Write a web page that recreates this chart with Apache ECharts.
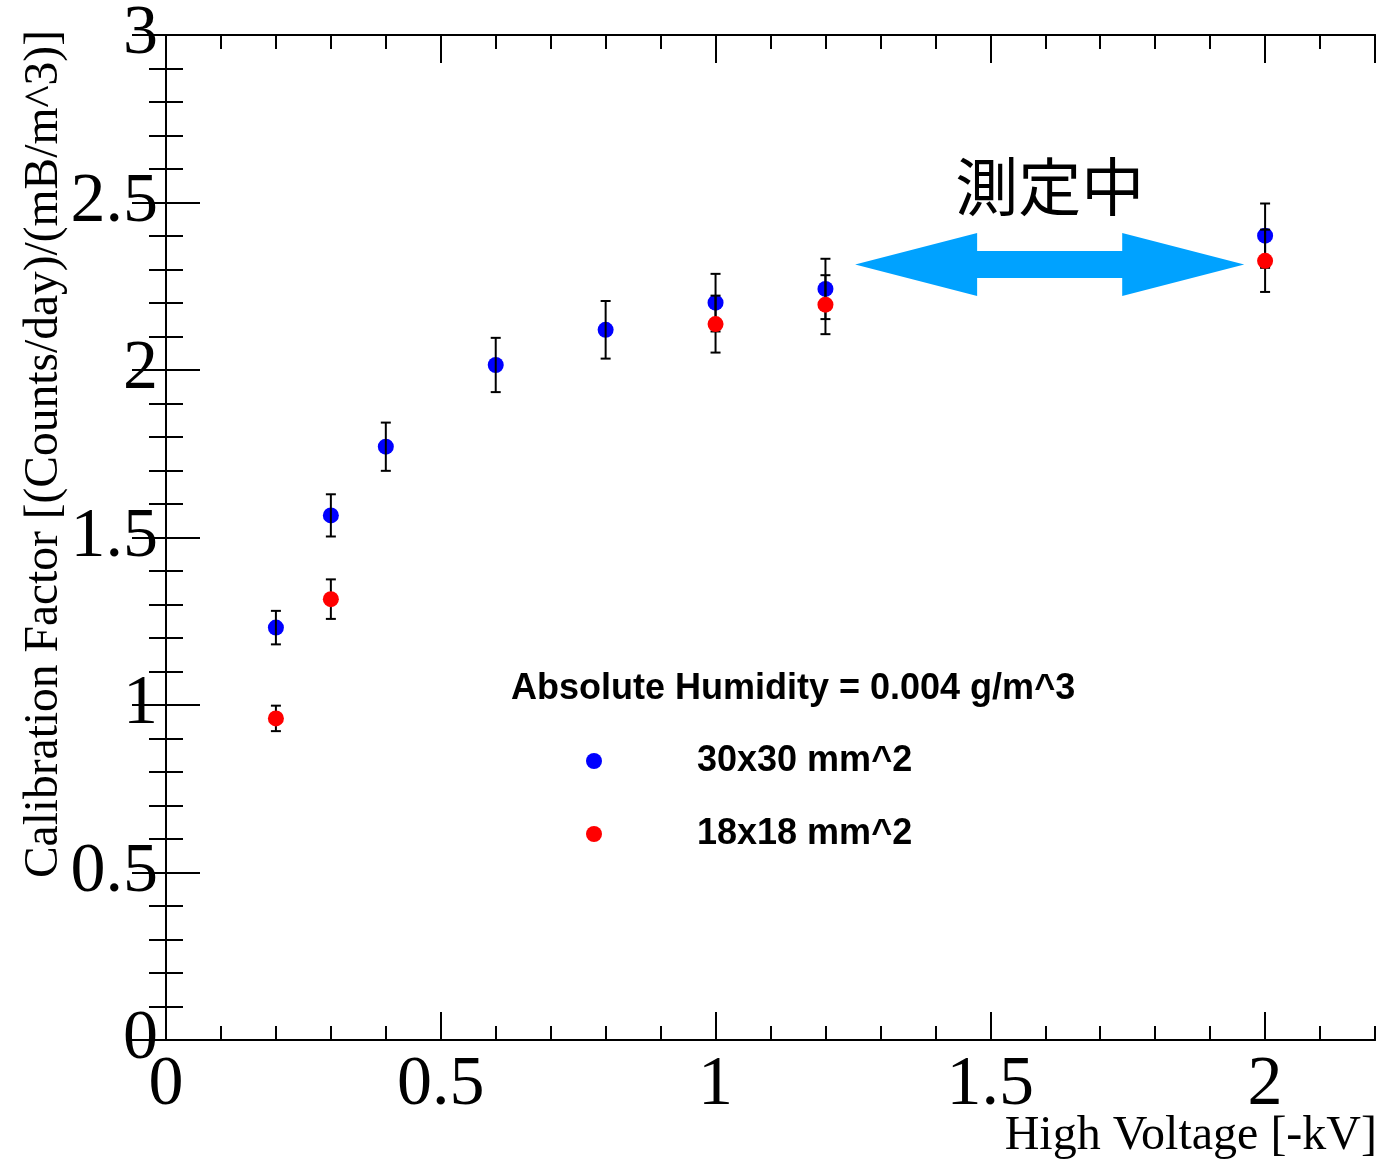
<!DOCTYPE html>
<html>
<head>
<meta charset="utf-8">
<title>Calibration Factor vs High Voltage</title>
<script src="https://cdn.jsdelivr.net/npm/echarts@6/dist/echarts.min.js"></script>
<style>
  html, body { margin: 0; padding: 0; background: #fff; }
  #chart { width: 1384px; height: 1159px; }
</style>
</head>
<body>
<div id="chart"></div>
<script>
// High voltage settings [-kV] and calibration factors for the two detector sizes
const hv30 = [0.2, 0.3, 0.4, 0.6, 0.8, 1.0, 1.2, 2.0];
const cf30 = [1.231, 1.566, 1.771, 2.015, 2.120, 2.201, 2.242, 2.401];
const err30 = [0.050, 0.063, 0.072, 0.081, 0.086, 0.086, 0.090, 0.096];

const hv18 = [0.2, 0.3, 1.0, 1.2, 2.0];
const cf18 = [0.960, 1.316, 2.137, 2.195, 2.326];
const err18 = [0.038, 0.059, 0.085, 0.088, 0.093];

const seriesNames = ['30x30 mm^2', '18x18 mm^2'];

// Axis ranges and tick steps
const xRange = [0, 2.2];
const xMajor = 0.5;
const xMinor = 0.1;
const yRange = [0, 3];
const yMajor = 0.5;

// "Measuring" span: arrow from / to (in kV) and its height
const spanFrom = 1.254;
const spanTo = 1.962;
const spanLevel = 2.315;
const spanLabel = '測定中';

const serif = "'Liberation Serif', 'Times New Roman', 'DejaVu Serif', serif";
const sans = "'Liberation Sans', Arial, Helvetica, sans-serif";

const pts30 = hv30.map((x, i) => [x, cf30[i]]);
const pts18 = hv18.map((x, i) => [x, cf18[i]]);
const bars30 = hv30.map((x, i) => [x, cf30[i], err30[i]]);
const bars18 = hv18.map((x, i) => [x, cf18[i], err18[i]]);

// Vertical error bar with short caps at both ends
function errorBar(params, api) {
  const x = api.value(0), y = api.value(1), e = api.value(2);
  const hi = api.coord([x, y + e]);
  const lo = api.coord([x, y - e]);
  const hw = 5;
  const style = { stroke: '#000', lineWidth: 2 };
  return {
    type: 'group',
    children: [
      { type: 'line', shape: { x1: hi[0], y1: hi[1], x2: lo[0], y2: lo[1] }, style },
      { type: 'line', shape: { x1: hi[0] - hw, y1: hi[1], x2: hi[0] + hw, y2: hi[1] }, style },
      { type: 'line', shape: { x1: lo[0] - hw, y1: lo[1], x2: lo[0] + hw, y2: lo[1] }, style }
    ]
  };
}

// Double-headed arrow with its caption above
function doubleArrow(params, api) {
  const a = api.coord([api.value(0), api.value(2)]);
  const b = api.coord([api.value(1), api.value(2)]);
  const head = 122, headHalf = 31.5, shaftHalf = 13.5;
  const y = a[1];
  const pts = [
    [a[0], y],
    [a[0] + head, y - headHalf],
    [a[0] + head, y - shaftHalf],
    [b[0] - head, y - shaftHalf],
    [b[0] - head, y - headHalf],
    [b[0], y],
    [b[0] - head, y + headHalf],
    [b[0] - head, y + shaftHalf],
    [a[0] + head, y + shaftHalf],
    [a[0] + head, y + headHalf]
  ];
  return {
    type: 'group',
    children: [
      { type: 'polygon', shape: { points: pts }, style: { fill: '#00a2ff' } },
      {
        type: 'text',
        x: (a[0] + b[0]) / 2,
        y: y - 78,
        style: {
          text: spanLabel,
          fill: '#000',
          font: "400 63px 'Noto Sans CJK JP', 'Noto Sans CJK SC', sans-serif",
          align: 'center',
          verticalAlign: 'middle'
        }
      }
    ]
  };
}

const axisLineStyle = { show: true, lineStyle: { color: '#000', width: 2 } };

function xAxisDef(position, step, tickLen, withLabels) {
  return {
    type: 'value',
    position: position,
    min: xRange[0],
    max: xRange[1],
    interval: step,
    axisLine: axisLineStyle,
    axisTick: { show: true, inside: true, length: tickLen, lineStyle: { color: '#000', width: 2 } },
    axisLabel: withLabels ? {
      show: true,
      showMaxLabel: false,
      fontFamily: serif,
      fontSize: 70,
      color: '#000',
      margin: 11
    } : { show: false },
    splitLine: { show: false }
  };
}

function yAxisDef(position, withLabels) {
  return {
    type: 'value',
    position: position,
    min: yRange[0],
    max: yRange[1],
    interval: yMajor,
    axisLine: axisLineStyle,
    axisTick: { show: true, inside: true, length: 34, lineStyle: { color: '#000', width: 2 } },
    minorTick: { show: true, splitNumber: 5, length: 17, lineStyle: { color: '#000', width: 2 } },
    axisLabel: withLabels ? {
      show: true,
      fontFamily: serif,
      fontSize: 70,
      color: '#000',
      margin: 8
    } : { show: false },
    splitLine: { show: false },
    minorSplitLine: { show: false }
  };
}

const chart = echarts.init(document.getElementById('chart'), null, { renderer: 'canvas' });

chart.setOption({
  animation: false,
  backgroundColor: '#fff',
  grid: { left: 166, right: 9, top: 33, bottom: 119, containLabel: false },
  xAxis: [
    xAxisDef('bottom', xMajor, 28, true),
    xAxisDef('bottom', xMinor, 14, false),
    xAxisDef('top', xMajor, 28, false),
    xAxisDef('top', xMinor, 14, false)
  ],
  yAxis: [
    yAxisDef('left', true),
    yAxisDef('right', false)
  ],
  legend: {
    data: seriesNames,
    orient: 'vertical',
    left: 581,
    top: 738,
    icon: 'circle',
    itemWidth: 16,
    itemHeight: 16,
    itemGap: 37,
    selectedMode: false,
    itemStyle: { opacity: 1 },
    textStyle: {
      fontFamily: sans,
      fontWeight: 'bold',
      fontSize: 36,
      color: '#000',
      padding: [0, 0, 0, 90]
    }
  },
  graphic: [
    {
      type: 'text',
      x: 511,
      y: 689,
      style: {
        text: 'Absolute Humidity = 0.004 g/m^3',
        font: "bold 36px " + sans,
        fill: '#000',
        align: 'left',
        verticalAlign: 'middle'
      }
    },
    {
      type: 'text',
      x: 1377,
      y: 1136,
      style: {
        text: 'High Voltage [-kV]',
        font: "48px " + serif,
        fill: '#000',
        align: 'right',
        verticalAlign: 'middle'
      }
    },
    {
      type: 'text',
      x: 45,
      y: 30,
      rotation: Math.PI / 2,
      style: {
        text: 'Calibration Factor [(Counts/day)/(mB/m^3)]',
        font: "47.5px " + serif,
        fill: '#000',
        align: 'right',
        verticalAlign: 'middle'
      }
    }
  ],
  series: [
    {
      name: seriesNames[0],
      type: 'scatter',
      data: pts30,
      symbol: 'circle',
      symbolSize: 16,
      itemStyle: { color: '#0000ff', opacity: 1 },
      z: 2
    },
    {
      name: 'err30',
      type: 'custom',
      renderItem: errorBar,
      data: bars30,
      encode: { x: 0, y: 1 },
      z: 3
    },
    {
      name: 'err18',
      type: 'custom',
      renderItem: errorBar,
      data: bars18,
      encode: { x: 0, y: 1 },
      z: 4
    },
    {
      name: seriesNames[1],
      type: 'scatter',
      data: pts18,
      symbol: 'circle',
      symbolSize: 16,
      itemStyle: { color: '#ff0000', opacity: 1 },
      z: 5
    },
    {
      name: 'span',
      type: 'custom',
      renderItem: doubleArrow,
      data: [[spanFrom, spanTo, spanLevel]],
      encode: { x: [0, 1], y: 2 },
      z: 6
    }
  ]
});
</script>
</body>
</html>
